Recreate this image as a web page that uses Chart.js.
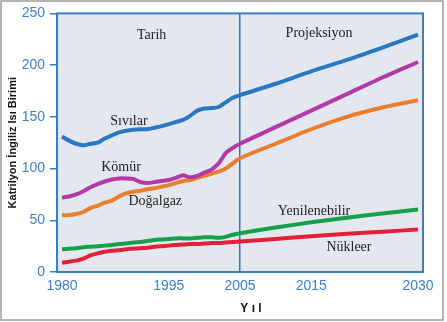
<!DOCTYPE html>
<html>
<head>
<meta charset="utf-8">
<script src="https://cdn.jsdelivr.net/npm/chart.js@4/dist/chart.umd.min.js"></script>
<style>
  html, body { margin: 0; padding: 0; background: #ffffff; }
  #wrap { width: 447px; height: 322px; }
</style>
</head>
<body>
<div id="wrap"><canvas id="c" width="447" height="322"></canvas></div>
<script>
// ---- data ----
const years = [1980,1981,1982,1983,1984,1985,1986,1987,1988,1989,1990,1991,1992,1993,1994,1995,1996,1997,1998,1999,2000,2001,2002,2003,2004,2005,2010,2015,2020,2025,2030];
const sivilar = [131,127,124,122.5,124,125,129,132,135,136.5,137.5,138,138,139.5,141,143,145,147,151,156,158,158.5,159.5,164,168.5,171,182,194,205,217,229.5];
const komur = [72,73,75,78,82,85,87.5,89.5,90.5,90.5,90,87,86,87,88,89,91,93.5,91.5,93,96,99,105,115,120,124,140,156,172,188,203];
const dogalgaz = [55,55,56,58,62,64,67,69,73,76,77.5,78.5,80,81,82.5,84,86,88,89,91,93,95,97,100,105,110,124,138,150,159,166];
const yenilenebilir = [22,22.5,23,24,24.5,25,25.5,26,27,27.5,28.5,29,30,31,31.5,32,32.5,32.5,32.5,33,33.5,33.5,33,34,36,37.5,43,48,52.5,56.5,60.5];
const nukleer = [9,10,11,13,16,18,19.5,20.5,21,22,22.5,23,23.5,24.5,25,25.5,26,26.5,27,27,27.5,28,28,28.5,29,29.5,32,34.5,37,39,41];

const xTicks = [1980, 1995, 2005, 2015, 2030];
const yTicks = [0, 50, 100, 150, 200, 250];
const splitYear = 2005;

const seriesNames = ["Sıvılar", "Kömür", "Doğalgaz", "Yenilenebilir", "Nükleer"];
const labelTexts = ["Tarih", "Projeksiyon", "Sıvılar", "Kömür", "Doğalgaz", "Yenilenebilir", "Nükleer"];
const labelYears = [1992.6, 2016.1, 1989.4, 1988.3, 1993.1, 2015.4, 2020.3];
const labelValues = [228.8, 230.7, 145.8, 101.4, 68.5, 58.9, 24.1];

const yTitle = "Katrilyon İngiliz Isı Birimi";
const xTitle = "Yıl";

// ---- styling ----
const AXIS_BLUE = "#3a7cc6";
const TICK_BLUE = "#3f80cc";
const colors = ["#2b78c2", "#b23aa8", "#ea7e2c", "#17a04a", "#e2203a"];
const seriesValues = [sivilar, komur, dogalgaz, yenilenebilir, nukleer];

const datasets = seriesValues.map((vals, i) => ({
  label: seriesNames[i],
  data: years.map((yr, k) => ({ x: yr, y: vals[k] })),
  borderColor: colors[i],
  borderWidth: 4,
  pointRadius: 0,
  tension: 0.25,
  fill: false
}));

const framePlugin = {
  id: "frame",
  beforeDraw(chart) {
    const { ctx, chartArea: a } = chart;
    ctx.save();
    ctx.fillStyle = "#ffffff";
    ctx.fillRect(0, 0, chart.width, chart.height);
    ctx.fillStyle = "#e3e8f0";
    ctx.fillRect(a.left, a.top, a.right - a.left, a.bottom - a.top);
    ctx.strokeStyle = "#9c9c9c";
    ctx.lineWidth = 1.5;
    ctx.strokeRect(1, 1, 442, 319);
    ctx.restore();
  },
  afterDatasetsDraw(chart) {
    const { ctx, chartArea: a, scales } = chart;
    ctx.save();
    ctx.strokeStyle = AXIS_BLUE;
    ctx.lineWidth = 2;
    ctx.strokeRect(a.left, a.top, a.right - a.left, a.bottom - a.top);
    // annotation labels
    ctx.fillStyle = "#222222";
    ctx.font = "14px 'Liberation Serif', 'Times New Roman', serif";
    ctx.textAlign = "center";
    ctx.textBaseline = "middle";
    labelTexts.forEach((t, i) => {
      ctx.fillText(t, scales.x.getPixelForValue(labelYears[i]), scales.y.getPixelForValue(labelValues[i]));
    });
    // x axis title
    ctx.fillStyle = "#111111";
    ctx.font = "bold 12px 'Liberation Sans', Arial, sans-serif";
    ctx.textBaseline = "middle";
    ctx.fillText(xTitle.split("").join(" "), 251, 309);
    ctx.restore();
  }
};

new Chart(document.getElementById("c"), {
  type: "line",
  data: { datasets },
  options: {
    responsive: false,
    animation: false,
    devicePixelRatio: 1,
    layout: { padding: { top: 13, right: 24, left: 0, bottom: 0 } },
    plugins: { legend: { display: false }, tooltip: { enabled: false } },
    scales: {
      x: {
        type: "linear",
        min: 1979.3,
        max: 2030.7,
        afterBuildTicks: (s) => { s.ticks = xTicks.map(v => ({ value: v })); },
        afterFit: (s) => { s.height = 50; },
        border: { display: false },
        grid: {
          drawTicks: false,
          color: (c) => (c.tick && c.tick.value === splitYear) ? "#2f77c0" : "rgba(0,0,0,0)",
          lineWidth: 1.5
        },
        ticks: {
          color: TICK_BLUE,
          padding: 6,
          maxRotation: 0,
          autoSkip: false,
          font: { family: "'Liberation Sans', Arial, sans-serif", size: 14 },
          callback: (v) => String(v)
        }
      },
      y: {
        min: 0,
        max: 250,
        afterBuildTicks: (s) => { s.ticks = yTicks.map(v => ({ value: v })); },
        afterFit: (s) => { s.width = 57; },
        border: { display: false },
        grid: {
          drawOnChartArea: false,
          drawTicks: true,
          tickLength: 7,
          color: AXIS_BLUE,
          lineWidth: 1.5
        },
        ticks: {
          color: TICK_BLUE,
          padding: 5,
          font: { family: "'Liberation Sans', Arial, sans-serif", size: 14 },
          callback: (v) => String(v)
        },
        title: {
          display: true,
          text: yTitle,
          color: "#111111",
          padding: { top: 6, bottom: 0 },
          font: { family: "'Liberation Sans', Arial, sans-serif", size: 11, weight: "bold" }
        }
      }
    }
  },
  plugins: [framePlugin]
});
</script>
</body>
</html>
